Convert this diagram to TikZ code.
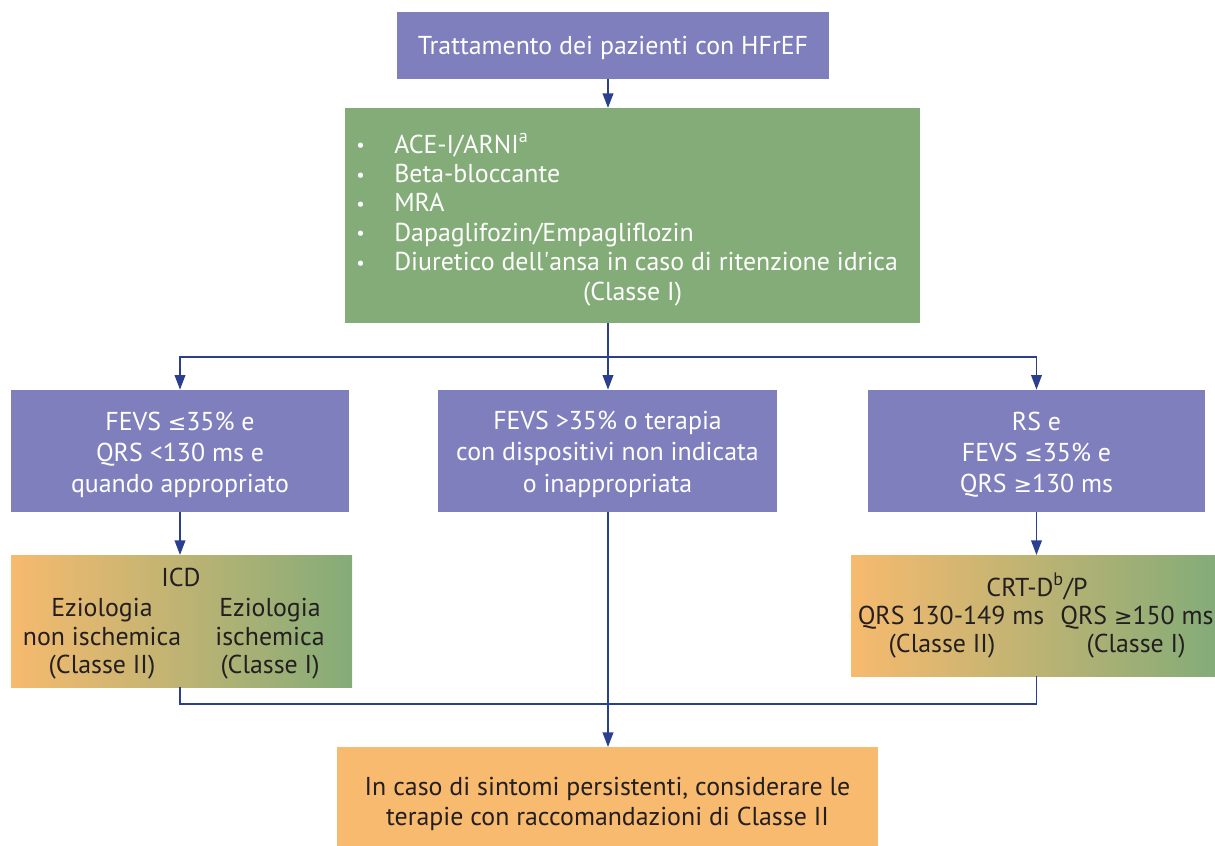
\documentclass[tikz,border=0pt]{standalone}
\usepackage{fontspec}
\setmainfont{PT Sans}
\newfontfamily\symf{DejaVu Sans}
\newcommand{\myle}{{\symf\fontsize{16.5}{20}\selectfont ≤}}
\newcommand{\myge}{{\symf\fontsize{16.5}{20}\selectfont ≥}}
\newcommand{\mybul}{\makebox[28.5pt][l]{\raisebox{1pt}{\fontsize{14}{16}\selectfont •}}}
\usetikzlibrary{arrows.meta}
\definecolor{purp}{HTML}{7F7FBE}
\definecolor{grn}{HTML}{84AC78}
\definecolor{org}{HTML}{F7BA6E}
\definecolor{arr}{HTML}{2B3F8F}
\definecolor{txt}{HTML}{231F20}
\begin{document}
\begin{tikzpicture}[x=0.75pt,y=-0.75pt,
  box/.style={draw=none, inner sep=0pt, outer sep=0pt},
  pbox/.style={box, fill=purp},
  gbox/.style={box, fill=grn},
  obox/.style={box, fill=org},
  grad/.style={box, left color=org, right color=grn},
  wt/.style={anchor=base, text=white, inner sep=0pt, font=\fontsize{19.4}{23}\selectfont},
  dt/.style={anchor=base, text=txt, inner sep=0pt, font=\fontsize{19.4}{23}\selectfont},
  conn/.style={draw=arr, line width=1.3pt, -{Triangle[width=8pt,length=11pt]}},
  link/.style={draw=arr, line width=1.3pt}
]
\useasboundingbox (0,0) rectangle (1215,846);
% boxes
\node[pbox, minimum width=324pt, minimum height=50.25pt] (top) at (613,45) {};
\node[gbox, minimum width=431.25pt, minimum height=161.25pt] (green) at (632.5,215.5) {};
\node[pbox, minimum width=253.5pt, minimum height=92pt] (left) at (180,451) {};
\node[pbox, minimum width=254.25pt, minimum height=92pt] (mid) at (607.5,451) {};
\node[pbox, minimum width=252.75pt, minimum height=92pt] (right) at (1036.5,451) {};
\node[grad, minimum width=255.75pt, minimum height=99pt] (icd) at (181.5,621) {};
\node[grad, minimum width=273pt, minimum height=90.75pt] (crt) at (1033,615.5) {};
\node[obox, minimum width=405.75pt, minimum height=79.5pt] (bottom) at (607.5,800) {};
% texts
\node[wt] (t0) at (613,55) {Trattamento dei pazienti con HFrEF};
\node[wt, anchor=base west] (g1) at (356,153) {\mybul ACE-I/ARNI\textsuperscript{a}};
\node[wt, anchor=base west] (g2) at (356,182.4) {\mybul Beta-bloccante};
\node[wt, anchor=base west] (g3) at (356,211.8) {\mybul MRA};
\node[wt, anchor=base west] (g4) at (356,241.2) {\mybul Dapaglifozin/Empagliflozin};
\node[wt, anchor=base west] (g5) at (356,270.6) {\mybul Diuretico dell\textquotesingle ansa in caso di ritenzione idrica};
\node[wt] (g6) at (632.5,300) {(Classe I)};
\node[wt] (l1) at (180,430) {FEVS \myle35\% e};
\node[wt] (l2) at (180,461) {QRS <130 ms e};
\node[wt] (l3) at (180,492) {quando appropriato};
\node[wt] (m1) at (607.5,429) {FEVS >35\% o terapia};
\node[wt] (m2) at (607.5,460.5) {con dispositivi non indicata};
\node[wt] (m3) at (607.5,492) {o inappropriata};
\node[wt] (r1) at (1036.5,430) {RS e};
\node[wt] (r2) at (1036.5,461) {FEVS \myle35\% e};
\node[wt] (r3) at (1036.5,492) {QRS \myge130 ms};
\node[dt] (i0) at (181,586) {ICD};
\node[dt] (i1) at (102,616) {Eziologia};
\node[dt] (i2) at (102,645) {non ischemica};
\node[dt] (i3) at (102,673) {(Classe II)};
\node[dt] (i4) at (270,616) {Eziologia};
\node[dt] (i5) at (270,645) {ischemica};
\node[dt] (i6) at (270,673) {(Classe I)};
\node[dt] (c0) at (1037,596) {CRT-D\textsuperscript{b}/P};
\node[dt] (c1) at (951,624) {QRS 130-149 ms};
\node[dt] (c2) at (942,652) {(Classe II)};
\node[dt] (c3) at (1137,624) {QRS \myge150 ms};
\node[dt] (c4) at (1136,652) {(Classe I)};
\node[dt] (b1) at (607.5,795) {In caso di sintomi persistenti, considerare le};
\node[dt] (b2) at (607.5,825) {terapie con raccomandazioni di Classe II};
% connectors
\coordinate (cx) at (608,0);
\coordinate (split) at (608,357);
\coordinate (merge) at (608,704);
\draw[conn] (top.south -| cx) -- (green.north -| cx);
\draw[link] (green.south -| split) -- (split);
\draw[conn] (split) -- (mid.north -| split);
\draw[conn] (split) -| (left.north);
\draw[conn] (split) -| (right.north);
\draw[conn] (left.south) -- (icd.north -| left.south);
\draw[conn] (right.south) -- (crt.north -| right.south);
\draw[conn] (mid.south -| cx) -- (bottom.north -| cx);
\draw[link] (icd.south -| left.south) |- (merge);
\draw[link] (crt.south -| right.south) |- (merge);
\end{tikzpicture}
\end{document}
